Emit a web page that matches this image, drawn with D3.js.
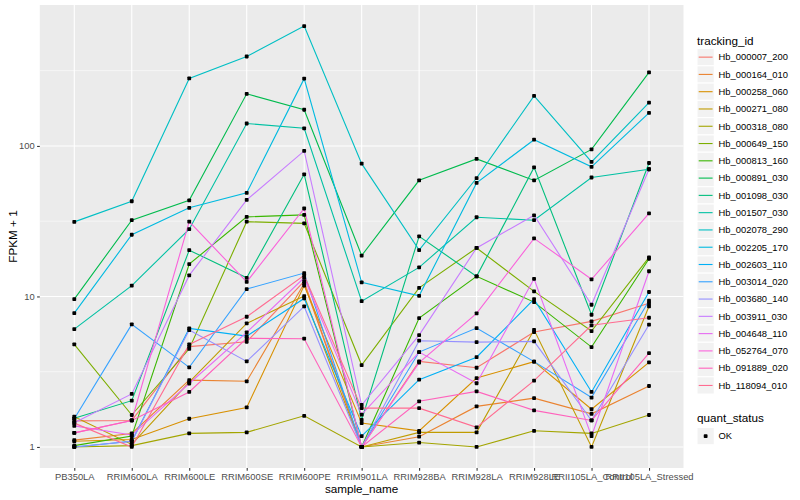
<!DOCTYPE html>
<html><head><meta charset="utf-8">
<script src="https://cdn.jsdelivr.net/npm/d3@7"></script>
<style>body{margin:0;background:#fff}svg{display:block}text{font-family:"Liberation Sans",Arial,Helvetica,sans-serif}</style>
</head><body>
<svg id="c" width="800" height="500"></svg>
<script>
const samples = ["PB350LA","RRIM600LA","RRIM600LE","RRIM600SE","RRIM600PE","RRIM901LA","RRIM928BA","RRIM928LA","RRIM928LE","RRII105LA_Control","RRII105LA_Stressed"];
const trackingIds = ["Hb_000007_200","Hb_000164_010","Hb_000258_060","Hb_000271_080","Hb_000318_080","Hb_000649_150","Hb_000813_160","Hb_000891_030","Hb_001098_030","Hb_001507_030","Hb_002078_290","Hb_002205_170","Hb_002603_110","Hb_003014_020","Hb_003680_140","Hb_003911_030","Hb_004648_110","Hb_052764_070","Hb_091889_020","Hb_118094_010"];
const colors = ["#F8766D","#EA8331","#D89000","#C09B00","#A3A500","#7CAE00","#39B600","#00BB4E","#00BF7D","#00C1A3","#00BFC4","#00BAE0","#00B0F6","#35A2FF","#9590FF","#C77CFF","#E76BF3","#FA62DB","#FF62BC","#FF6C91"];
// FPKM + 1 per tracking id, in sample order
const v01 = [1.49, 1.5, 4.64, 5.0, 12.6, 1.0, 3.70, 3.36, 5.80, 6.83, 9.0];
const v02 = [1.11, 1.23, 2.78, 2.73, 12.2, 1.0, 1.17, 1.86, 2.11, 1.66, 2.54];
const v03 = [1.09, 1.12, 1.54, 1.83, 11.8, 1.44, 1.28, 2.87, 3.69, 1.78, 3.65];
const v04 = [1.59, 1.04, 2.70, 6.62, 10.05, 1.0, 1.25, 1.25, 6.0, 1.0, 8.6];
const v05 = [1.0, 1.02, 1.23, 1.25, 1.61, 1.0, 1.07, 1.0, 1.28, 1.23, 1.63];
const v06 = [4.8, 1.63, 4.49, 31.4, 30.6, 3.5, 11.4, 21.0, 10.8, 5.89, 18.2];
const v07 = [1.02, 1.18, 16.4, 33.8, 34.8, 1.0, 7.18, 13.6, 9.17, 4.61, 17.8];
const v08 = [9.6, 32.1, 43.5, 222, 174, 18.7, 59.1, 82, 59, 94.9, 308];
const v09 = [1.55, 2.03, 20.3, 13.3, 64.8, 1.51, 25.1, 13.6, 72, 7.56, 77];
const v10 = [6.07, 11.8, 28, 141, 131, 9.3, 15.6, 33.6, 32.1, 61.7, 70];
const v11 = [31.3, 42.9, 281, 393, 626, 76.3, 20.3, 61.2, 215, 78.3, 194];
const v12 = [7.75, 25.7, 38.8, 48.8, 280, 12.4, 10.1, 56.8, 110, 72.6, 165.6];
const v13 = [1.0, 1.09, 6.13, 5.45, 9.7, 1.18, 2.80, 3.95, 9.6, 2.32, 10.7];
const v14 = [1.54, 6.52, 3.38, 11.2, 14.3, 1.0, 4.27, 6.16, 3.69, 2.13, 9.36];
const v15 = [1.0, 1.09, 5.98, 3.70, 8.58, 1.0, 5.08, 4.97, 5.03, 1.5, 6.49];
const v16 = [1.45, 2.25, 13.8, 43.8, 92.7, 1.9, 5.53, 21.0, 34.6, 8.81, 70];
const v17 = [1.38, 1.2, 2.64, 5.77, 13.3, 1.64, 4.27, 2.65, 13.1, 1.18, 14.7];
const v18 = [1.24, 1.5, 31.4, 12.5, 38.4, 1.0, 3.63, 7.71, 24.3, 13.0, 35.6];
const v19 = [1.24, 1.5, 2.32, 5.27, 5.24, 1.0, 2.01, 2.34, 1.75, 1.50, 4.2];
const v20 = [1.44, 1.0, 4.8, 7.33, 13.8, 1.81, 1.81, 1.35, 2.76, 6.43, 7.22];
const seriesValues = [v01,v02,v03,v04,v05,v06,v07,v08,v09,v10,v11,v12,v13,v14,v15,v16,v17,v18,v19,v20];
const yTicks = [1, 10, 100];
const yMinor = [Math.sqrt(10), Math.sqrt(1000), Math.sqrt(100000)];
const statusLevels = ["OK"];

const svg = d3.select("#c");
const P = {l: 39.8, r: 683.5, t: 5, b: 468};
const x = d3.scalePoint().domain(samples).range([P.l, P.r]).padding(0.6);
const all = seriesValues.flat();
const lmin = Math.log10(d3.min(all)), lmax = Math.log10(d3.max(all));
const ex = (lmax - lmin) * 0.05;
const y = d3.scaleLog().domain([Math.pow(10, lmin - ex), Math.pow(10, lmax + ex)]).range([P.b, P.t]);

svg.append("rect").attr("x", P.l).attr("y", P.t).attr("width", P.r - P.l).attr("height", P.b - P.t).attr("fill", "#EBEBEB");
const g = svg.append("g");
g.selectAll(".mn").data(yMinor.filter(v => y(v) > P.t && y(v) < P.b)).join("line")
  .attr("x1", P.l).attr("x2", P.r).attr("y1", d => y(d)).attr("y2", d => y(d)).attr("stroke", "#fff").attr("stroke-width", 0.55);
g.selectAll(".mj").data(yTicks).join("line")
  .attr("x1", P.l).attr("x2", P.r).attr("y1", d => y(d)).attr("y2", d => y(d)).attr("stroke", "#fff").attr("stroke-width", 1.1);
g.selectAll(".xv").data(samples).join("line")
  .attr("x1", d => x(d)).attr("x2", d => x(d)).attr("y1", P.t).attr("y2", P.b).attr("stroke", "#fff").attr("stroke-width", 1.1);

const data = trackingIds.map((id, i) => ({id, color: colors[i], pts: samples.map((s, j) => ({s, v: seriesValues[i][j]}))}));
const line = d3.line().x(d => x(d.s)).y(d => y(d.v));
svg.append("g").selectAll("path").data(data).join("path")
  .attr("d", d => line(d.pts)).attr("fill", "none").attr("stroke", d => d.color).attr("stroke-width", 1.1);
const pg = svg.append("g");
data.forEach(d => {
  pg.selectAll(null).data(d.pts).join("rect")
    .attr("x", p => x(p.s) - 1.9).attr("y", p => y(p.v) - 1.9).attr("width", 3.8).attr("height", 3.8).attr("rx", 0.8).attr("fill", "#000");
});

// axes
const xa = svg.append("g").attr("transform", `translate(0,${P.b})`)
  .call(d3.axisBottom(x).tickSize(2.7).tickPadding(2.5));
const ya = svg.append("g").attr("transform", `translate(${P.l},0)`)
  .call(d3.axisLeft(y).tickValues(yTicks).tickFormat(d3.format("d")).tickSize(2.7).tickPadding(2.5));
[xa, ya].forEach(a => {
  a.select(".domain").remove();
  a.selectAll(".tick line").attr("stroke", "#333").attr("stroke-width", 1.07);
  a.selectAll(".tick text").attr("fill", "#4D4D4D").style("font-size", "9.4px");
});
svg.append("text").attr("x", (P.l + P.r) / 2).attr("y", 493).attr("text-anchor", "middle").style("font-size", "11.7px").attr("fill", "#000").text("sample_name");
svg.append("text").attr("transform", `translate(17,${(P.t + P.b) / 2}) rotate(-90)`).attr("text-anchor", "middle").style("font-size", "11.7px").attr("fill", "#000").text("FPKM + 1");

// legend tracking_id
const L = svg.append("g");
const kx = 697, k0 = 48.5, ks = 17.28;
L.append("text").attr("x", kx).attr("y", 44.5).style("font-size", "11.7px").text("tracking_id");
data.forEach((d, i) => {
  const yy = k0 + i * ks;
  L.append("rect").attr("x", kx).attr("y", yy).attr("width", ks).attr("height", ks).attr("fill", "#F2F2F2").attr("stroke", "#fff").attr("stroke-width", 1.07);
  L.append("line").attr("x1", kx + 1.7).attr("x2", kx + ks - 1.7).attr("y1", yy + ks / 2).attr("y2", yy + ks / 2).attr("stroke", d.color).attr("stroke-width", 1.1);
  L.append("text").attr("x", kx + ks + 4.3).attr("y", yy + ks / 2).attr("dy", "0.35em").style("font-size", "9.4px").text(d.id);
});
// legend quant_status
L.append("text").attr("x", kx).attr("y", 422).style("font-size", "11.7px").text("quant_status");
statusLevels.forEach((s, i) => {
  const yy = 427.5 + i * ks;
  L.append("rect").attr("x", kx).attr("y", yy).attr("width", ks).attr("height", ks).attr("fill", "#F2F2F2").attr("stroke", "#fff").attr("stroke-width", 1.07);
  L.append("rect").attr("x", kx + ks / 2 - 1.9).attr("y", yy + ks / 2 - 1.9).attr("width", 3.8).attr("height", 3.8).attr("rx", 0.8).attr("fill", "#000");
  L.append("text").attr("x", kx + ks + 4.3).attr("y", yy + ks / 2).attr("dy", "0.35em").style("font-size", "9.4px").text(s);
});
</script>
</body></html>
